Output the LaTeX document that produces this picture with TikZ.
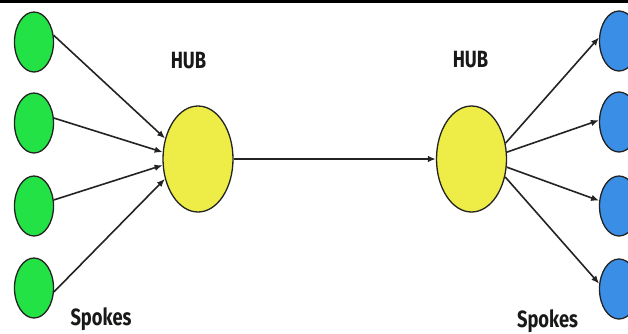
\documentclass[tikz,border=0pt]{standalone}
\usepackage{fontspec}
\newfontfamily\labfont[FakeStretch=0.78]{Fira Sans}
\usetikzlibrary{shapes.geometric,arrows.meta}
\definecolor{spokegreen}{RGB}{34,226,70}
\definecolor{hubyellow}{RGB}{238,236,70}
\definecolor{spokeblue}{RGB}{58,142,230}
\definecolor{edge}{RGB}{35,35,35}
\tikzset{
  spoke/.style={ellipse, draw=edge, line width=1.3pt, inner sep=0pt, minimum width=39pt, minimum height=60pt},
  hubnode/.style={ellipse, draw=edge, line width=1.3pt, fill=hubyellow, inner sep=0pt, minimum width=70pt, minimum height=106pt},
  link/.style={draw=edge, line width=1.6pt, -{Latex[length=8pt,width=6.5pt]}},
  lab/.style={font=\labfont\bfseries\fontsize{23.5}{25}\selectfont, text=black!90, inner sep=0pt, anchor=base}
}
\begin{document}
\begin{tikzpicture}[x=1pt,y=-1pt]
\useasboundingbox (0,0) rectangle (628,333);
\clip (0,0) rectangle (628,333);
\fill[white] (0,0) rectangle (628,333);
\fill[black] (0,0) rectangle (628,2.5);
% left spokes
\node[spoke, fill=spokegreen] (g1) at (34,42) {};
\node[spoke, fill=spokegreen] (g2) at (34,123) {};
\node[spoke, fill=spokegreen] (g3) at (34,206) {};
\node[spoke, fill=spokegreen] (g4) at (34,288) {};
% right spokes
\node[spoke, fill=spokeblue] (b1) at (619,41) {};
\node[spoke, fill=spokeblue] (b2) at (619,122) {};
\node[spoke, fill=spokeblue] (b3) at (619,206) {};
\node[spoke, fill=spokeblue] (b4) at (619,289) {};
% hubs
\node[hubnode] (h1) at (198,159) {};
\node[hubnode] (h2) at (471.5,159) {};
% labels
\node[lab] (t1) at (188.5,68) {HUB};
\node[lab] (t2) at (470.5,67) {HUB};
\node[lab] (s1) at (101,325) {Spokes};
\node[lab] (s2) at (547.5,327) {Spokes};
% connectors
\draw[link] (g1.19) -- (h1.148);
\draw[link] (g2.14) -- (h1.169);
\draw[link] (g3.17) -- (h1.190);
\draw[link] (g4.-11) -- (h1.211);
\draw[link] (h1.east) -- (h2.west);
\draw[link] (h2.25) -- (b1.170);
\draw[link] (h2.11) -- (b2.175);
\draw[link] (h2.-13) -- (b3.165);
\draw[link] (h2.-28) -- (b4.165);
\end{tikzpicture}
\end{document}
